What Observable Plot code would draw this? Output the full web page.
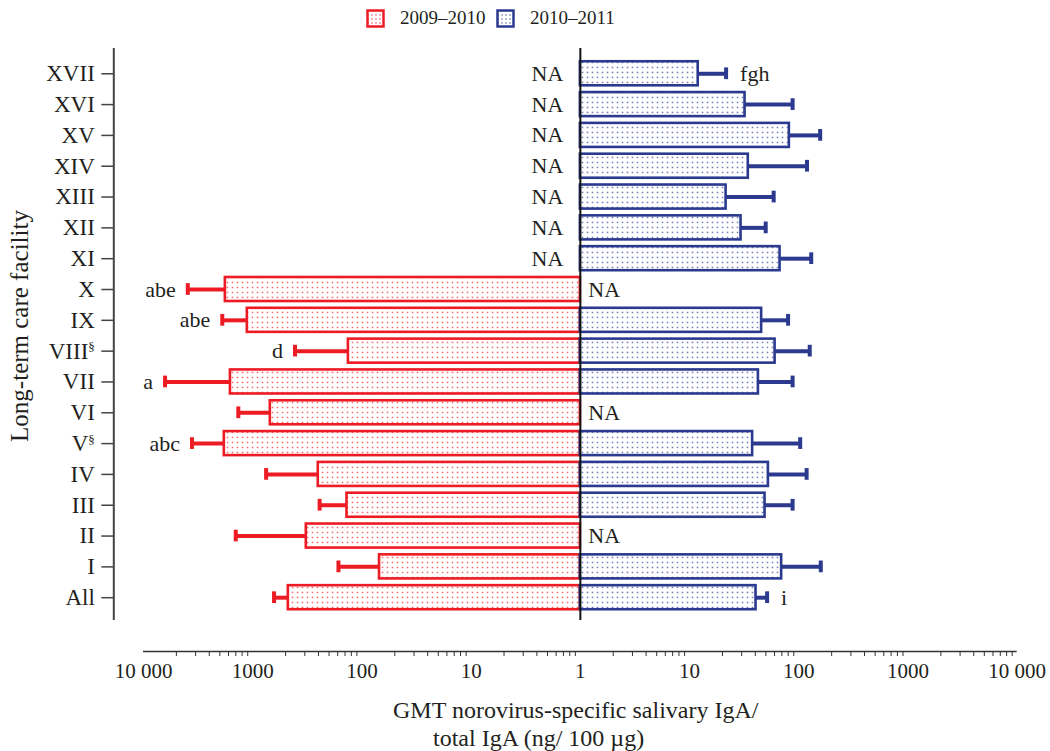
<!DOCTYPE html>
<html><head><meta charset="utf-8">
<script src="https://cdn.jsdelivr.net/npm/d3@7"></script>
<script src="https://cdn.jsdelivr.net/npm/@observablehq/plot@0.6"></script>
<style>
body{margin:0;background:#fff;font-family:"Liberation Serif",serif;color:#231f20;}
#legend{height:40px;position:relative;font-size:19px;}
.lg{position:absolute;top:7px;display:flex;align-items:center;gap:15px;}
.cap{font-size:24px;line-height:28px;white-space:nowrap;}
</style></head><body>
<div id="legend"></div>
<div id="chart"></div>
<div id="caption"></div>
<script>
// ---- data ----
const facilities = ["XVII","XVI","XV","XIV","XIII","XII","XI","X","IX","VIII§","VII","VI","V§","IV","III","II","I","All"];
const seasons = ["2009–2010","2010–2011"];
const gmt0910   = [null,null,null,null,null,null,null,1780,1120,133,1600,690,1820,251,137,323,69,472];
const upper0910 = [null,null,null,null,null,null,null,3930,1900,410,6350,1355,3600,754,244,1430,164,638];
const gmt1011   = [12.0,32.2,82,34.5,21.6,29.6,67.4,null,45.7,60.7,42.7,null,37.8,52.7,49.1,null,69.7,40.6];
const upper1011 = [21.6,87.8,157,119,58.9,49.8,130,null,79.8,126,87.8,null,103,118,87.8,null,159,51.3];
const letters0910 = ["","","","","","","","abe","abe","d","a","","abc","","","","",""];
const letters1011 = ["fgh","","","","","","","","","","","","","","","","","i"];
const xTickLabels = ["10 000","1000","100","10","1","10","100","1000","10 000"];
const decades = [-4,-3,-2,-1,0,1,2,3,4];

const RED = "#ed1c24", BLUE = "#2b3a8f", INK = "#231f20";

const rows = facilities.map((f, i) => ({f, i, g0: gmt0910[i], u0: upper0910[i], g1: gmt1011[i], u1: upper1011[i], l0: letters0910[i], l1: letters1011[i]}));
const left = rows.filter(d => d.g0 != null);
const right = rows.filter(d => d.g1 != null);
const naLeft = rows.filter(d => d.g0 == null);
const naRight = rows.filter(d => d.g1 == null);

// mirrored log: 2009–2010 drawn to the left of 1, 2010–2011 to the right
const L = v => -Math.log10(v), R = v => Math.log10(v);
const minorTicks = [];
for (let d = -4; d < 4; d++) for (let k = 2; k <= 9; k++) minorTicks.push(d + Math.log10(k));

const X0 = -4.272, X1 = 4;          // x domain (spine at X0)
const Y0 = -0.82, Y1 = 18.746;      // y domain in row units (x axis at Y1)
const SPINE_END = 17.74;
const HALF = 0.39, CAP = 0.19;

function patternDefs() {
  return `<defs>
  <pattern id="dotsRed" width="5" height="5" patternUnits="userSpaceOnUse">
    <rect width="5" height="5" fill="#fff"/><rect x="1.7" y="1.7" width="1.6" height="1.5" fill="${RED}" opacity="0.65"/>
  </pattern>
  <pattern id="dotsBlue" width="5" height="5" patternUnits="userSpaceOnUse">
    <rect width="5" height="5" fill="#fff"/><rect x="1.7" y="1.7" width="1.6" height="1.5" fill="${BLUE}" opacity="0.65"/>
  </pattern></defs>`;
}

const chart = Plot.plot({
  width: 1050, height: 656,
  marginLeft: 113.3, marginRight: 33.3, marginTop: 8, marginBottom: 45,
  x: {type: "linear", domain: [X0, X1], axis: null},
  y: {type: "linear", domain: [Y0, Y1], reverse: true, axis: null},
  style: {fontFamily: "Liberation Serif", fontSize: "21px", color: INK, background: "#fff"},
  marks: [
    // error bars
    Plot.ruleY(left, {y: "i", x1: d => L(d.g0), x2: d => L(d.u0), stroke: RED, strokeWidth: 4}),
    Plot.ruleX(left, {x: d => L(d.u0), y1: d => d.i - CAP, y2: d => d.i + CAP, stroke: RED, strokeWidth: 4}),
    Plot.ruleY(right, {y: "i", x1: d => R(d.g1), x2: d => R(d.u1), stroke: BLUE, strokeWidth: 4}),
    Plot.ruleX(right, {x: d => R(d.u1), y1: d => d.i - CAP, y2: d => d.i + CAP, stroke: BLUE, strokeWidth: 4}),
    // bars
    Plot.rect(left, {x1: () => 0, x2: d => L(d.g0), y1: d => d.i - HALF, y2: d => d.i + HALF, fill: "url(#dotsRed)", stroke: RED, strokeWidth: 2.6}),
    Plot.rect(right, {x1: () => 0, x2: d => R(d.g1), y1: d => d.i - HALF, y2: d => d.i + HALF, fill: "url(#dotsBlue)", stroke: BLUE, strokeWidth: 2.6}),
    // centre line and left spine
    Plot.ruleX([0], {y1: Y0, y2: SPINE_END, stroke: "#111", strokeWidth: 2}),
    Plot.ruleX([X0], {y1: Y0, y2: SPINE_END, stroke: "#444", strokeWidth: 2}),
    // NA and significance letters
    Plot.text(naLeft, {x: () => 0, y: "i", text: () => "NA", textAnchor: "end", dx: -17, fill: INK, fontSize: 22}),
    Plot.text(naRight, {x: () => 0, y: "i", text: () => "NA", textAnchor: "start", dx: 8, fill: INK, fontSize: 22}),
    Plot.text(left.filter(d => d.l0), {x: d => L(d.u0), y: "i", text: "l0", textAnchor: "end", dx: -12, fill: INK, fontSize: 22}),
    Plot.text(right.filter(d => d.l1), {x: d => R(d.u1), y: "i", text: "l1", textAnchor: "start", dx: 14, fill: INK, fontSize: 22}),
    // y axis
    Plot.axisY({ticks: d3.range(facilities.length), tickFormat: i => facilities[i], anchor: "left", tickSize: 12, tickPadding: 7, label: null, stroke: "#444", strokeWidth: 1.5, fill: INK, fontSize: 23}),
    Plot.text(["Long-term care facility"], {text: d => d, frameAnchor: "left", textAnchor: "middle", rotate: -90, dx: -94, dy: -24, fontSize: 25, fill: INK}),
    // x axis
    Plot.ruleY([Y1], {x1: () => -4, x2: () => 4, stroke: "#333", strokeWidth: 1.6}),
    Plot.axisX({ticks: minorTicks, tickSize: 5, tickFormat: () => "", anchor: "bottom", label: null, stroke: "#333"}),
    Plot.axisX({ticks: decades, tickSize: 0, tickPadding: 12, tickFormat: u => xTickLabels[u + 4], anchor: "bottom", label: null, fill: INK})
  ]
});
chart.insertAdjacentHTML("afterbegin", patternDefs());
// superscript section signs on facility labels
chart.querySelectorAll("text").forEach(t => {
  if (t.childElementCount === 0 && t.textContent.endsWith("§")) {
    const base = t.textContent.slice(0, -1);
    t.textContent = base;
    const s = document.createElementNS("http://www.w3.org/2000/svg", "tspan");
    s.setAttribute("font-size", "13");
    s.setAttribute("dy", "-0.55em");
    s.textContent = "§";
    t.appendChild(s);
  }
});
document.getElementById("chart").appendChild(chart);

// legend
const sw = (c, id) => `<svg width="19" height="19"><defs><pattern id="${id}" width="4" height="4" patternUnits="userSpaceOnUse"><rect width="4" height="4" fill="#fff"/><rect x="1.3" y="1.3" width="1.4" height="1.4" fill="${c}" opacity="0.7"/></pattern></defs><rect x="1.5" y="1.5" width="16" height="16" fill="url(#${id})" stroke="${c}" stroke-width="2.5"/></svg>`;
const lg = document.getElementById("legend");
lg.innerHTML = `<div class="lg" style="left:366px">${sw(RED, "lr")}<span>${seasons[0]}</span></div>
<div class="lg" style="left:496px">${sw(BLUE, "lb")}<span>${seasons[1]}</span></div>`;

document.getElementById("caption").innerHTML =
  `<div class="cap" style="padding-left:393px">GMT norovirus-specific salivary IgA/</div>
   <div class="cap" style="padding-left:433px">total IgA (ng/ 100 µg)</div>`;
</script>
</body></html>
